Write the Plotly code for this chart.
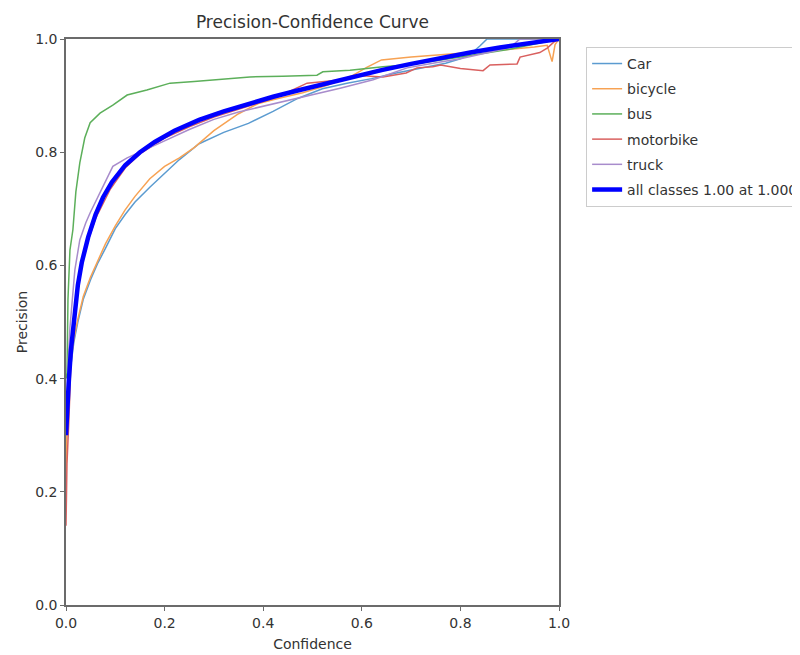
import plotly.graph_objects as go

# ---- data ----
car_x = [0, 0.002, 0.008, 0.016, 0.024, 0.035, 0.05, 0.065, 0.08, 0.1, 0.12, 0.14, 0.17, 0.2, 0.23, 0.27, 0.32, 0.37, 0.42, 0.47, 0.52, 0.57, 0.62, 0.67, 0.72, 0.77, 0.8, 0.82, 0.84, 0.854, 0.9, 1.0]
car_y = [0.25, 0.33, 0.41, 0.465, 0.5, 0.54, 0.575, 0.605, 0.63, 0.665, 0.69, 0.712, 0.738, 0.763, 0.787, 0.815, 0.835, 0.851, 0.872, 0.895, 0.912, 0.922, 0.93, 0.94, 0.948, 0.957, 0.965, 0.973, 0.988, 1.0, 1.0, 1.0]

bicycle_x = [0, 0.002, 0.008, 0.016, 0.024, 0.035, 0.05, 0.065, 0.08, 0.1, 0.12, 0.14, 0.17, 0.2, 0.23, 0.26, 0.3, 0.35, 0.39, 0.43, 0.48, 0.53, 0.58, 0.61, 0.64, 0.7, 0.76, 0.82, 0.88, 0.95, 0.976, 0.986, 0.992, 1.0]
bicycle_y = [0.22, 0.33, 0.42, 0.47, 0.505, 0.545, 0.58, 0.61, 0.638, 0.67, 0.698, 0.722, 0.753, 0.775, 0.79, 0.808, 0.838, 0.868, 0.886, 0.895, 0.905, 0.918, 0.935, 0.95, 0.963, 0.968, 0.972, 0.975, 0.98, 0.986, 0.989, 0.96, 0.99, 1.0]

bus_x = [0, 0.002, 0.004, 0.008, 0.014, 0.02, 0.028, 0.038, 0.049, 0.069, 0.095, 0.124, 0.164, 0.211, 0.26, 0.306, 0.373, 0.44, 0.509, 0.521, 0.576, 0.643, 0.7, 0.8, 0.9, 1.0]
bus_y = [0.40, 0.41, 0.54, 0.627, 0.663, 0.73, 0.781, 0.825, 0.852, 0.869, 0.883, 0.901, 0.91, 0.922, 0.925, 0.928, 0.933, 0.934, 0.936, 0.942, 0.945, 0.951, 0.955, 0.968, 0.982, 1.0]

motorbike_x = [0, 0.002, 0.006, 0.01, 0.016, 0.024, 0.032, 0.045, 0.06, 0.075, 0.09, 0.12, 0.15, 0.2, 0.25, 0.3, 0.373, 0.43, 0.489, 0.53, 0.56, 0.6, 0.643, 0.69, 0.712, 0.744, 0.76, 0.8, 0.846, 0.86, 0.915, 0.921, 0.961, 0.976, 0.99, 1.0]
motorbike_y = [0.14, 0.25, 0.33, 0.43, 0.49, 0.555, 0.6, 0.645, 0.683, 0.71, 0.735, 0.772, 0.797, 0.825, 0.845, 0.862, 0.882, 0.898, 0.922, 0.925, 0.928, 0.935, 0.933, 0.94, 0.949, 0.951, 0.954, 0.948, 0.944, 0.954, 0.956, 0.968, 0.976, 0.984, 0.995, 1.0]

truck_x = [0, 0.004, 0.008, 0.018, 0.028, 0.04, 0.049, 0.075, 0.095, 0.124, 0.165, 0.19, 0.25, 0.3, 0.35, 0.4, 0.45, 0.5, 0.556, 0.623, 0.692, 0.75, 0.8, 0.85, 0.9, 0.921, 1.0]
truck_y = [0.30, 0.42, 0.49, 0.592, 0.645, 0.675, 0.693, 0.74, 0.775, 0.79, 0.807, 0.816, 0.84, 0.858, 0.871, 0.881, 0.892, 0.902, 0.913, 0.928, 0.949, 0.958, 0.965, 0.975, 0.985, 1.0, 1.0]

all_x = [0, 0.002, 0.006, 0.01, 0.016, 0.024, 0.032, 0.045, 0.06, 0.075, 0.093, 0.12, 0.15, 0.18, 0.22, 0.27, 0.32, 0.37, 0.42, 0.47, 0.52, 0.58, 0.64, 0.7, 0.76, 0.82, 0.88, 0.94, 1.0]
all_y = [0.30, 0.345, 0.40, 0.45, 0.50, 0.565, 0.605, 0.65, 0.69, 0.72, 0.747, 0.777, 0.80, 0.818, 0.838, 0.857, 0.872, 0.886, 0.898, 0.909, 0.92, 0.933, 0.945, 0.956, 0.967, 0.976, 0.985, 0.993, 1.0]

x_ticks = [0.0, 0.2, 0.4, 0.6, 0.8, 1.0]
y_ticks = [0.0, 0.2, 0.4, 0.6, 0.8, 1.0]

series = [
    ("Car", car_x, car_y, "#5b9bd0"),
    ("bicycle", bicycle_x, bicycle_y, "#f7a253"),
    ("bus", bus_x, bus_y, "#5caf5a"),
    ("motorbike", motorbike_x, motorbike_y, "#d9605f"),
    ("truck", truck_x, truck_y, "#a88ccc"),
]

fig = go.Figure()
for i, (name, xs, ys, col) in enumerate(series):
    fig.add_trace(go.Scatter(x=xs, y=ys, mode="lines", name=name,
                             line=dict(color=col, width=1.5),
                             legendgroup=f"g{i}"))
fig.add_trace(go.Scatter(x=all_x, y=all_y, mode="lines",
                         name="all classes 1.00 at 1.000",
                         line=dict(color="#0000ff", width=4.5),
                         legendgroup="gall"))

axis_common = dict(range=[0, 1], showline=True, mirror=True, linecolor="#6b6b6b",
                   linewidth=1.5, ticks="outside", ticklen=4, tickcolor="#6b6b6b",
                   tickwidth=1.2, showgrid=False, zeroline=False, tickformat=".1f",
                   tickfont=dict(size=14, color="#333333"), automargin=False)

fig.update_layout(
    width=792, height=647,
    margin=dict(l=58, r=241, t=31, b=50, autoexpand=False),
    paper_bgcolor="white", plot_bgcolor="white",
    font=dict(family="DejaVu Sans", color="#333333"),
    title=dict(text="Precision-Confidence Curve", x=0.5, xref="paper",
               y=0.978, yref="container", yanchor="middle",
               font=dict(size=17, color="#333333")),
    xaxis=dict(tickvals=x_ticks, title=dict(text="Confidence", standoff=10,
               font=dict(size=14)), **axis_common),
    yaxis=dict(tickvals=y_ticks, title=dict(text="Precision", standoff=4,
               font=dict(size=14)), **axis_common),
    legend=dict(x=1.055, y=0.986, xanchor="left", yanchor="top",
                bordercolor="#cccccc", borderwidth=1, bgcolor="white",
                font=dict(size=14, color="#333333"), tracegroupgap=4),
    showlegend=True,
)

fig.write_html("out.html")
